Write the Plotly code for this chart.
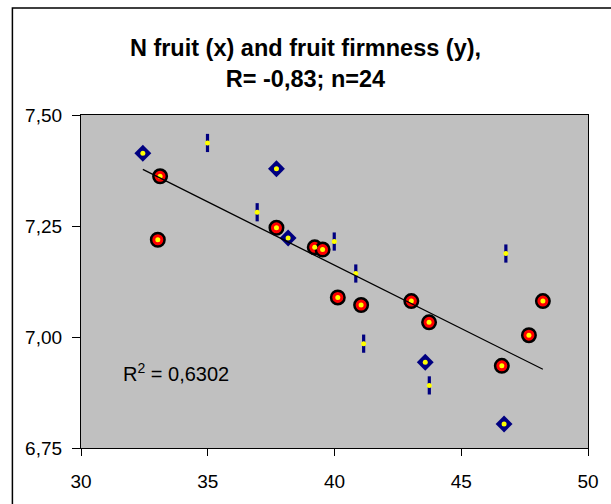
import numpy as np
import plotly.graph_objects as go

# Red circles group
red_x = [33.12, 33.03, 37.71, 39.22, 39.53, 40.13, 41.05, 43.03, 43.73, 46.60, 47.67, 48.22]
red_y = [7.362, 7.219, 7.246, 7.202, 7.197, 7.089, 7.072, 7.081, 7.033, 6.935, 7.004, 7.081]
# Blue diamonds group
dia_x = [32.44, 37.71, 38.17, 43.58, 46.69]
dia_y = [7.414, 7.379, 7.223, 6.943, 6.804]
# Blue dash group
dash_x = [34.99, 36.95, 39.99, 40.84, 41.15, 43.74, 46.76]
dash_y = [7.437, 7.281, 7.215, 7.143, 6.985, 6.891, 7.188]

x_ticks = [30, 35, 40, 45, 50]
y_ticks = [6.75, 7.00, 7.25, 7.50]

all_x = np.array(red_x + dia_x + dash_x)
all_y = np.array(red_y + dia_y + dash_y)
slope, intercept = np.polyfit(all_x, all_y, 1)
tx = np.array([all_x.min(), all_x.max()])
ty = slope * tx + intercept

FONT = "Liberation Sans, Arial, sans-serif"
NAVY = "#000080"

fig = go.Figure()
fig.add_trace(go.Scatter(x=red_x, y=red_y, mode="markers",
                         marker=dict(symbol="circle", size=13.5, color="#FF0000",
                                     line=dict(color="black", width=2.5))))
fig.add_trace(go.Scatter(x=dia_x, y=dia_y, mode="markers",
                         marker=dict(symbol="diamond", size=13, color=NAVY,
                                     line=dict(width=0))))
fig.add_trace(go.Scatter(x=dash_x, y=dash_y, mode="markers",
                         marker=dict(symbol="line-ns", size=13,
                                     line=dict(color=NAVY, width=3.2))))
fig.add_trace(go.Scatter(x=list(all_x), y=list(all_y), mode="markers",
                         marker=dict(symbol="circle", size=5, color="#FFFF00",
                                     line=dict(width=0))))
fig.add_trace(go.Scatter(x=tx, y=ty, mode="lines",
                         line=dict(color="black", width=1.3)))

L, R, T, B = 81, 20, 115, 53
W, H = 611, 504
pw, ph = W - L - R, H - T - B

fig.update_layout(
    width=W, height=H,
    margin=dict(l=L, r=R, t=T, b=B),
    paper_bgcolor="white",
    plot_bgcolor="#C0C0C0",
    showlegend=False,
    separators=", ",
    font=dict(family=FONT, size=19, color="black"),
    title=dict(text="<b>N fruit (x) and fruit firmness (y),<br>R= -0,83; n=24</b>",
               x=0.5, xanchor="center", xref="container",
               y=1 - 56 / H, yanchor="middle", yref="container",
               font=dict(family=FONT, size=23.5, color="black")),
    xaxis=dict(range=[30, 50], tickvals=x_ticks, ticktext=[str(v) for v in x_ticks],
               showgrid=False, zeroline=False, showline=True, linecolor="black",
               linewidth=1.3, mirror=True, ticks="outside", ticklen=7,
               tickcolor="black", tickwidth=1, ticklabelstandoff=9),
    yaxis=dict(range=[6.75, 7.5], tickvals=y_ticks,
               ticktext=[f"{v:.2f}".replace(".", ",") for v in y_ticks],
               showgrid=False, zeroline=False, showline=True, linecolor="black",
               linewidth=1.3, mirror=True, ticks="outside", ticklen=8,
               tickcolor="black", tickwidth=1, ticklabelstandoff=6),
    annotations=[dict(x=33.76, y=6.92, xref="x", yref="y", showarrow=False,
                      text="R<sup>2</sup> = 0,6302", xanchor="center", yanchor="middle",
                      font=dict(family=FONT, size=20, color="black"))],
    shapes=[dict(type="rect", xref="paper", yref="paper",
                 x0=(12 - L) / pw, x1=(W + 20 - L) / pw,
                 y0=-(H + 20 - (T + ph)) / ph, y1=(T + ph - 7) / ph,
                 line=dict(color="black", width=1.5), fillcolor="rgba(0,0,0,0)",
                 layer="below")],
)

fig.write_html("out.html", config={"displayModeBar": False},
               post_script="document.body.style.margin='0';document.body.style.overflow='hidden';")
